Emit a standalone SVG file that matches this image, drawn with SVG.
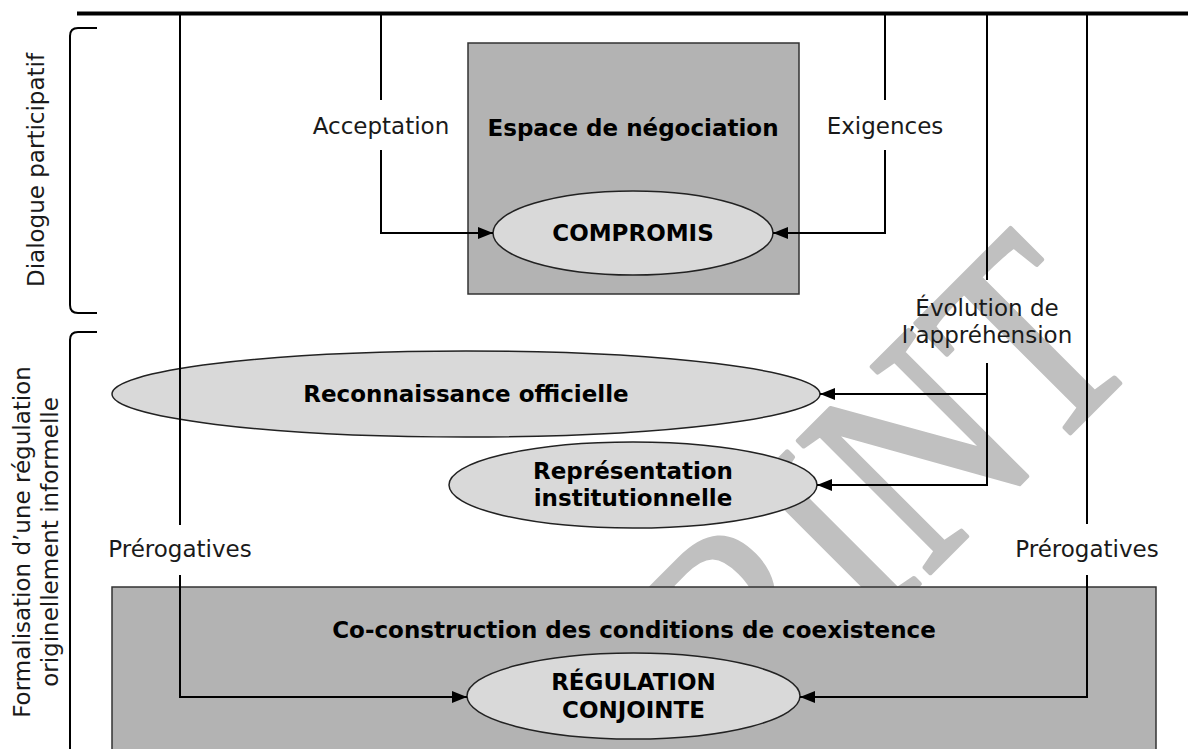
<svg xmlns="http://www.w3.org/2000/svg" width="1188" height="749" viewBox="0 0 1188 749">
<style>
.t{font-family:"DejaVu Sans","Verdana",sans-serif;font-size:23px;fill:#1a1a1a;text-anchor:middle}
.b{font-weight:bold;fill:#000}
.box{fill:#b3b3b3;stroke:#333;stroke-width:1.5}
.ell{fill:#d9d9d9;stroke:#222;stroke-width:1.5}
.ln{fill:none;stroke:#000;stroke-width:2}
.wm{font-family:"Liberation Serif","Times New Roman",serif;font-size:285px;fill:#c0c0c0;stroke:#c0c0c0;stroke-width:5;stroke-linejoin:round}
</style>
<defs>
<marker id="ah" markerUnits="userSpaceOnUse" markerWidth="15" markerHeight="12" refX="15" refY="6" orient="auto">
<path d="M0,0 L15,6 L0,12 z" fill="#000"/>
</marker>
</defs>
<rect width="1188" height="749" fill="#fff"/>
<g id="watermark">
<text class="wm" transform="translate(925,578) rotate(-45) scale(0.82,1)" x="-443" y="0">PRINT</text>
</g>
<g id="brackets">
<path class="ln" d="M97,28 H78 Q70,28 70,36 V305 Q70,313 78,313 H97"/>
<path class="ln" d="M97,332 H78 Q70,332 70,340 V760"/>
</g>
<g id="side-labels">
<text class="t" transform="translate(44,170) rotate(-90)">Dialogue participatif</text>
<text class="t" transform="translate(30,542) rotate(-90)">Formalisation d’une régulation</text>
<text class="t" transform="translate(57.5,542) rotate(-90)">originellement informelle</text>
</g>
<g id="node-espace">
<rect class="box" x="468" y="43" width="331" height="251"/>
<text class="t b" x="633" y="136">Espace de négociation</text>
</g>
<g id="node-coconstruction">
<rect class="box" x="112" y="587" width="1044" height="175"/>
<text class="t b" x="634" y="638">Co-construction des conditions de coexistence</text>
</g>
<g id="node-compromis">
<ellipse class="ell" cx="633" cy="233" rx="140" ry="42"/>
<text class="t b" x="633" y="241">COMPROMIS</text>
</g>
<g id="node-reconnaissance">
<ellipse class="ell" cx="466" cy="394" rx="354" ry="43"/>
<text class="t b" x="466" y="402">Reconnaissance officielle</text>
</g>
<g id="node-representation">
<ellipse class="ell" cx="633" cy="485" rx="184" ry="43"/>
<text class="t b" x="633" y="479">Représentation</text>
<text class="t b" x="633" y="506">institutionnelle</text>
</g>
<g id="node-regulation">
<ellipse class="ell" cx="633.5" cy="696" rx="166.5" ry="43"/>
<text class="t b" x="633.5" y="690">RÉGULATION</text>
<text class="t b" x="633.5" y="718">CONJOINTE</text>
</g>
<g id="connectors">
<line x1="77" y1="13.5" x2="1188" y2="13.5" stroke="#000" stroke-width="4"/>
<path class="ln" d="M381,15 V100"/>
<path class="ln" d="M381,150 V233 H493" marker-end="url(#ah)"/>
<path class="ln" d="M885,15 V100"/>
<path class="ln" d="M885,150 V233 H773" marker-end="url(#ah)"/>
<path class="ln" d="M180,15 V525"/>
<path class="ln" d="M180,575 V697 H467" marker-end="url(#ah)"/>
<path class="ln" d="M1087,15 V524"/>
<path class="ln" d="M1087,575 V697 H800" marker-end="url(#ah)"/>
<path class="ln" d="M987,15 V280"/>
<path class="ln" d="M987,363 V485 H817" marker-end="url(#ah)"/>
<path class="ln" d="M987,394 H820" marker-end="url(#ah)"/>
</g>
<g id="labels">
<text class="t" x="381" y="134">Acceptation</text>
<text class="t" x="885" y="134">Exigences</text>
<text class="t" x="987" y="316">Évolution de</text>
<text class="t" x="987" y="343">l’appréhension</text>
<text class="t" x="180" y="557">Prérogatives</text>
<text class="t" x="1087" y="557">Prérogatives</text>
</g>
</svg>
